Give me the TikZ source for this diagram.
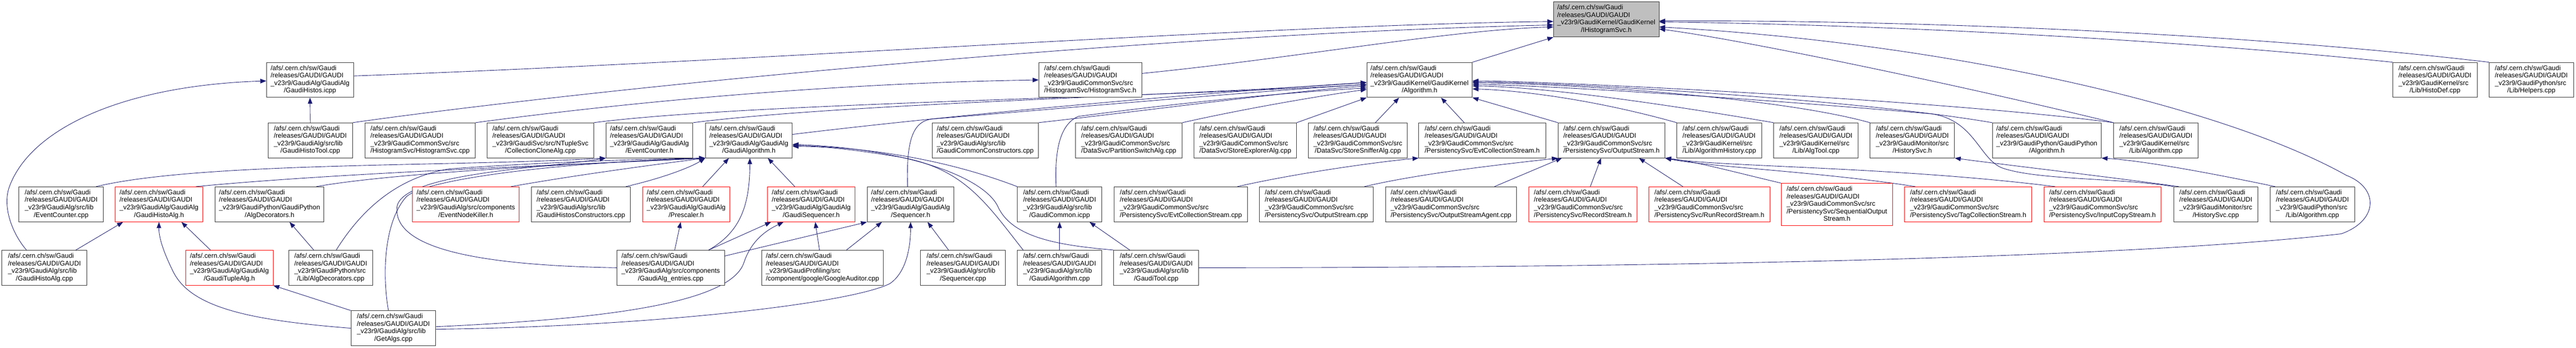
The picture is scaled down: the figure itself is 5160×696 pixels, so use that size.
\documentclass[tikz,border=0pt]{standalone}
\usepackage{fontspec}
\newfontfamily\gfont{Liberation Sans}
\usetikzlibrary{arrows.meta}
\definecolor{mblue}{HTML}{191970}
\definecolor{rootgrey}{HTML}{BFBFBF}
\newcommand\flbl[2]{\begin{tabular}{@{}l@{}}/afs/.cern.ch/sw/Gaudi\\/releases/GAUDI/GAUDI\\#1\\\multicolumn{1}{@{}c@{}}{#2}\end{tabular}}
\newcommand\flblv[3]{\begin{tabular}{@{}l@{}}/afs/.cern.ch/sw/Gaudi\\/releases/GAUDI/GAUDI\\#1\\#2\\\multicolumn{1}{@{}c@{}}{#3}\end{tabular}}
\pgfdeclarelayer{background}
\pgfsetlayers{background,main}
\begin{document}
\begin{tikzpicture}[x=1pt,y=1pt,
  nb/.style={draw=black!80, line width=1pt, fill=white, minimum height=70pt, inner sep=0pt, font={\gfont\fontsize{13.33}{15}\selectfont}},
  nr/.style={nb, draw=red},
  edg/.style={draw=mblue, line width=0.9pt, -{Triangle[length=12pt,width=9pt]}}]
\useasboundingbox (0,0) rectangle (5160,696);
% row 0
\node[nb,fill=rootgrey,minimum width=211pt] (R) at (3217.5,657) {\flbl{\_v23r9/GaudiKernel/GaudiKernel}{/IHistogramSvc.h}};
% row 1
\node[nb,minimum width=174pt] (GHicpp) at (621,536) {\flbl{\_v23r9/GaudiAlg/GaudiAlg}{/GaudiHistos.icpp}};
\node[nb,minimum width=206pt] (HSvcH) at (2184,536) {\flbl{\_v23r9/GaudiCommonSvc/src}{/HistogramSvc/HistogramSvc.h}};
\node[nb,minimum width=211pt] (AlgH) at (2843.5,536) {\flbl{\_v23r9/GaudiKernel/GaudiKernel}{/Algorithm.h}};
\node[nb,minimum width=169pt] (HDef) at (4877.5,536) {\flbl{\_v23r9/GaudiKernel/src}{/Lib/HistoDef.cpp}};
\node[nb,minimum width=169pt] (Help) at (5070.5,536) {\flbl{\_v23r9/GaudiPython/src}{/Lib/Helpers.cpp}};
% row 2
\node[nb,minimum width=169pt] (GHTool) at (621.5,415) {\flbl{\_v23r9/GaudiAlg/src/lib}{/GaudiHistoTool.cpp}};
\node[nb,minimum width=221pt] (HSvcCpp) at (841.5,415) {\flbl{\_v23r9/GaudiCommonSvc/src}{/HistogramSvc/HistogramSvc.cpp}};
\node[nb,minimum width=213pt] (CCA) at (1082.5,415) {\flbl{\_v23r9/GaudiSvc/src/NTupleSvc}{/CollectionCloneAlg.cpp}};
\node[nb,minimum width=174pt] (ECh) at (1301,415) {\flbl{\_v23r9/GaudiAlg/GaudiAlg}{/EventCounter.h}};
\node[nb,minimum width=174pt] (GAh) at (1500,415) {\flbl{\_v23r9/GaudiAlg/GaudiAlg}{/GaudiAlgorithm.h}};
\node[nb,minimum width=213pt] (GCC) at (1973.5,415) {\flbl{\_v23r9/GaudiAlg/src/lib}{/GaudiCommonConstructors.cpp}};
\node[nb,minimum width=214pt] (PSA) at (2261,415) {\flbl{\_v23r9/GaudiCommonSvc/src}{/DataSvc/PartitionSwitchAlg.cpp}};
\node[nb,minimum width=205pt] (SEA) at (2494.5,415) {\flbl{\_v23r9/GaudiCommonSvc/src}{/DataSvc/StoreExplorerAlg.cpp}};
\node[nb,minimum width=198pt] (SSA) at (2720,415) {\flbl{\_v23r9/GaudiCommonSvc/src}{/DataSvc/StoreSnifferAlg.cpp}};
\node[nb,minimum width=254pt] (ECSh) at (2969,415) {\flbl{\_v23r9/GaudiCommonSvc/src}{/PersistencySvc/EvtCollectionStream.h}};
\node[nb,minimum width=214pt] (OSh) at (3228,415) {\flbl{\_v23r9/GaudiCommonSvc/src}{/PersistencySvc/OutputStream.h}};
\node[nb,minimum width=170pt] (AHist) at (3444,415) {\flbl{\_v23r9/GaudiKernel/src}{/Lib/AlgorithmHistory.cpp}};
\node[nb,minimum width=169pt] (ATool) at (3637.5,415) {\flbl{\_v23r9/GaudiKernel/src}{/Lib/AlgTool.cpp}};
\node[nb,minimum width=169pt] (HSh) at (3830.5,415) {\flbl{\_v23r9/GaudiMonitor/src}{/HistorySvc.h}};
\node[nb,minimum width=218pt] (GPAh) at (4100,415) {\flbl{\_v23r9/GaudiPython/GaudiPython}{/Algorithm.h}};
\node[nb,minimum width=169pt] (KAcpp) at (4318.5,415) {\flbl{\_v23r9/GaudiKernel/src}{/Lib/Algorithm.cpp}};
% row 3
\node[nb,minimum width=169pt] (ECcpp) at (122.5,287) {\flbl{\_v23r9/GaudiAlg/src/lib}{/EventCounter.cpp}};
\node[nr,minimum width=175pt] (GHAh) at (318.5,287) {\flbl{\_v23r9/GaudiAlg/GaudiAlg}{/GaudiHistoAlg.h}};
\node[nb,minimum width=218pt] (ADh) at (540,287) {\flbl{\_v23r9/GaudiPython/GaudiPython}{/AlgDecorators.h}};
\node[nr,minimum width=214pt] (ENK) at (933,287) {\flbl{\_v23r9/GaudiAlg/src/components}{/EventNodeKiller.h}};
\node[nb,minimum width=199pt] (GHC) at (1163.5,287) {\flbl{\_v23r9/GaudiAlg/src/lib}{/GaudiHistosConstructors.cpp}};
\node[nr,minimum width=175pt] (Presc) at (1374.5,287) {\flbl{\_v23r9/GaudiAlg/GaudiAlg}{/Prescaler.h}};
\node[nr,minimum width=176pt] (GSeqh) at (1625,287) {\flbl{\_v23r9/GaudiAlg/GaudiAlg}{/GaudiSequencer.h}};
\node[nb,minimum width=174pt] (Seqh) at (1824,287) {\flbl{\_v23r9/GaudiAlg/GaudiAlg}{/Sequencer.h}};
\node[nb,minimum width=169pt] (GCicpp) at (2122.5,287) {\flbl{\_v23r9/GaudiAlg/src/lib}{/GaudiCommon.icpp}};
\node[nb,minimum width=267pt] (ECScpp) at (2365.5,287) {\flbl{\_v23r9/GaudiCommonSvc/src}{/PersistencySvc/EvtCollectionStream.cpp}};
\node[nb,minimum width=228pt] (OScpp) at (2637,287) {\flbl{\_v23r9/GaudiCommonSvc/src}{/PersistencySvc/OutputStream.cpp}};
\node[nb,minimum width=263pt] (OSAcpp) at (2906.5,287) {\flbl{\_v23r9/GaudiCommonSvc/src}{/PersistencySvc/OutputStreamAgent.cpp}};
\node[nr,minimum width=217pt] (RSh) at (3170.5,287) {\flbl{\_v23r9/GaudiCommonSvc/src}{/PersistencySvc/RecordStream.h}};
\node[nr,minimum width=242pt] (RRSh) at (3424,287) {\flbl{\_v23r9/GaudiCommonSvc/src}{/PersistencySvc/RunRecordStream.h}};
\node[nr,minimum width=223pt,minimum height=85pt] (SOSh) at (3679.5,286.5) {\flblv{\_v23r9/GaudiCommonSvc/src}{/PersistencySvc/SequentialOutput}{Stream.h}};
\node[nr,minimum width=255pt] (TCSh) at (3942.5,287) {\flbl{\_v23r9/GaudiCommonSvc/src}{/PersistencySvc/TagCollectionStream.h}};
\node[nr,minimum width=235pt] (ICSh) at (4211.5,287) {\flbl{\_v23r9/GaudiCommonSvc/src}{/PersistencySvc/InputCopyStream.h}};
\node[nb,minimum width=169pt] (HScpp) at (4438.5,287) {\flbl{\_v23r9/GaudiMonitor/src}{/HistorySvc.cpp}};
\node[nb,minimum width=170pt] (GPAcpp) at (4632,287) {\flbl{\_v23r9/GaudiPython/src}{/Lib/Algorithm.cpp}};
% row 4
\node[nb,minimum width=170pt] (GHAcpp) at (89,160) {\flbl{\_v23r9/GaudiAlg/src/lib}{/GaudiHistoAlg.cpp}};
\node[nr,minimum width=175pt] (GTAh) at (459.5,160) {\flbl{\_v23r9/GaudiAlg/GaudiAlg}{/GaudiTupleAlg.h}};
\node[nb,minimum width=169pt] (ADcpp) at (662.5,160) {\flbl{\_v23r9/GaudiPython/src}{/Lib/AlgDecorators.cpp}};
\node[nb,minimum width=215pt] (GAent) at (1343.5,160) {\flbl{\_v23r9/GaudiAlg/src/components}{/GaudiAlg\_entries.cpp}};
\node[nb,minimum width=243pt] (GAud) at (1647.5,160) {\flbl{\_v23r9/GaudiProfiling/src}{/component/google/GoogleAuditor.cpp}};
\node[nb,minimum width=170pt] (Seqcpp) at (1929,160) {\flbl{\_v23r9/GaudiAlg/src/lib}{/Sequencer.cpp}};
\node[nb,minimum width=169pt] (GAcpp) at (2122.5,160) {\flbl{\_v23r9/GaudiAlg/src/lib}{/GaudiAlgorithm.cpp}};
\node[nb,minimum width=170pt] (GTcpp) at (2316,160) {\flbl{\_v23r9/GaudiAlg/src/lib}{/GaudiTool.cpp}};
% row 5
\node[nb,minimum width=170pt] (GetAlgs) at (788,39) {\flbl{\_v23r9/GaudiAlg/src/lib}{/GetAlgs.cpp}};

\begin{pgfonlayer}{background}
% into IHistogramSvc.h
\draw[edg] ([yshift=8pt]GHicpp.east) .. controls (1500,572) and (2500,645) .. ([yshift=-4pt]R.west);
\draw[edg] (GHTool.north east) .. controls (1200,520) and (2300,628) .. ([yshift=-11pt]R.west);
\draw[edg] ([yshift=13pt]HSvcH.east) .. controls (2600,580) and (2900,636) .. ([yshift=-15pt]R.west);
\draw[edg] (AlgH.north east) -- (R.south west);
\draw[edg] (HDef.north west) .. controls (4300,622) and (3700,648) .. ([yshift=-5pt]R.east);
\draw[edg] (Help.north west) .. controls (4400,640) and (3700,656) .. ([yshift=-3pt]R.east);
\draw[edg] (GTcpp.east) .. controls (3300,160) and (4250,178) .. (4690,228) .. controls (4765,255) and (4765,320) .. (4700,345) .. controls (4450,485) and (3900,610) .. ([yshift=-15pt]R.east);
\draw[edg] (KAcpp.north west) .. controls (3950,520) and (3500,615) .. ([yshift=-19pt]R.east);
% into GaudiHistos.icpp
\draw[edg] (GHTool.north) -- (GHicpp.south);
\draw[edg] ([xshift=-36pt]GHAcpp.north) .. controls (25,228) and (5,280) .. (18,320) .. controls (60,440) and (250,525) .. ([yshift=-2pt]GHicpp.west);
% into HistogramSvc.h
\draw[edg] (HSvcCpp.north east) .. controls (1300,497) and (1700,530) .. (HSvcH.west);
% into Algorithm.h
\draw[edg] (CCA.north east) .. controls (1500,490) and (2300,500) .. ([yshift=-9pt]AlgH.west);
\draw[edg] (ECh.north east) .. controls (1700,490) and (2400,505) .. ([yshift=-5pt]AlgH.west);
\draw[edg] ([yshift=12pt]GAh.east) .. controls (1900,465) and (2400,510) .. ([yshift=-5pt]AlgH.west);
\draw[edg] (GCC.north east) .. controls (2300,475) and (2600,515) .. ([yshift=-12pt]AlgH.west);
\draw[edg] (PSA.north east) .. controls (2500,480) and (2650,505) .. ([yshift=-19pt]AlgH.west);
\draw[edg] (SEA.north east) -- (AlgH.south west);
\draw[edg] ([xshift=35pt]SSA.north) -- ([xshift=-41pt]AlgH.south);
\draw[edg] ([xshift=-36pt]ECSh.north) -- ([xshift=43pt]AlgH.south);
\draw[edg] ([xshift=-6pt]Seqh.north) .. controls (1815,420) and (1830,455) .. (1870,458) .. controls (2200,485) and (2500,512) .. ([yshift=-9pt]AlgH.west);
\draw[edg] ([xshift=-7pt]GCicpp.north) .. controls (2112,400) and (2125,448) .. (2160,463) .. controls (2400,495) and (2600,512) .. ([yshift=-16pt]AlgH.west);
\draw[edg] (OSh.north west) -- (AlgH.south east);
\draw[edg] (AHist.north west) .. controls (3200,495) and (3050,515) .. ([yshift=-18pt]AlgH.east);
\draw[edg] (ATool.north west) .. controls (3350,485) and (3100,522) .. ([yshift=-12pt]AlgH.east);
\draw[edg] (HSh.north west) .. controls (3550,505) and (3100,530) .. ([yshift=-6pt]AlgH.east);
\draw[edg] (GPAh.north west) .. controls (3700,500) and (3100,532) .. ([yshift=-4pt]AlgH.east);
\draw[edg] (KAcpp.north west) .. controls (3900,495) and (3100,534) .. ([yshift=-2pt]AlgH.east);
\draw[edg] (HScpp.north west) .. controls (4250,340) and (4080,335) .. (4010,360) .. controls (3965,378) and (3955,455) .. (3870,468) .. controls (3500,500) and (3100,525) .. ([yshift=-9pt]AlgH.east);
% into EventCounter.h
\draw[edg] ([xshift=70pt]ECcpp.north) .. controls (400,372) and (900,362) .. (ECh.south west);
\draw[edg] (GAent.west) .. controls (950,165) and (790,200) .. (795,280) .. controls (800,350) and (1100,360) .. (ECh.south west);
% into GaudiAlgorithm.h
\draw[edg] ([xshift=-14pt]GHAh.north east) .. controls (700,352) and (1200,368) .. (GAh.south west);
\draw[edg] ([xshift=-16pt]ADh.north east) .. controls (800,352) and (1200,370) .. (GAh.south west);
\draw[edg] ([xshift=-17pt]ENK.north east) .. controls (1150,345) and (1300,365) .. (GAh.south west);
\draw[edg] ([xshift=-10pt]GHC.north east) .. controls (1330,340) and (1385,362) .. (GAh.south west);
\draw[edg] ([xshift=33pt]Presc.north) -- ([xshift=-40pt]GAh.south);
\draw[edg] ([xshift=76pt]GAent.north) .. controls (1480,230) and (1502,280) .. ([xshift=2pt]GAh.south);
\draw[edg] ([xshift=-33pt]GSeqh.north) -- ([xshift=38pt]GAh.south);
\draw[edg] ([xshift=-10pt]GetAlgs.north) .. controls (765,150) and (770,250) .. (812,300) .. controls (840,335) and (1100,370) .. (GAh.south west);
\draw[edg] ([xshift=11pt]ADcpp.north) .. controls (720,270) and (790,340) .. (900,358) .. controls (1100,372) and (1300,378) .. (GAh.south west);
\draw[edg] (GCicpp.north west) .. controls (1900,375) and (1750,400) .. ([yshift=-10pt]GAh.east);
\draw[edg] ([xshift=12pt]GAcpp.north west) .. controls (1975,290) and (1930,360) .. (1800,382) .. controls (1700,398) and (1650,403) .. ([yshift=-12pt]GAh.east);
\draw[edg] (GTcpp.north west) .. controls (2120,205) and (2030,220) .. (2000,280) .. controls (1975,340) and (1820,398) .. ([yshift=-8pt]GAh.east);
% into GaudiHistoAlg.h, GaudiTupleAlg.h, AlgDecorators.h
\draw[edg] ([xshift=63pt]GHAcpp.north) -- ([xshift=-72pt]GHAh.south);
\draw[edg] ([xshift=-38pt]GTAh.north) -- ([xshift=45pt]GHAh.south);
\draw[edg] (GetAlgs.west) .. controls (500,55) and (385,80) .. (348,150) .. controls (328,190) and (318,220) .. (GHAh.south);
\draw[edg] (GetAlgs.north west) -- (GTAh.south east);
\draw[edg] ([xshift=-34pt]ADcpp.north) -- ([xshift=40pt]ADh.south);
% into Prescaler.h, GaudiSequencer.h, Sequencer.h
\draw[edg] ([xshift=8pt]GAent.north) -- ([xshift=-11pt]Presc.south);
\draw[edg] ([xshift=76pt]GAent.north) -- ([xshift=8pt]GSeqh.south west);
\draw[edg] ([yshift=3pt]GetAlgs.east) .. controls (1150,55) and (1460,80) .. (1490,170) .. controls (1505,215) and (1535,235) .. ([xshift=33pt]GSeqh.south west);
\draw[edg] ([xshift=-6pt]GAud.north) -- ([xshift=8pt]GSeqh.south);
\draw[edg] ([yshift=-12pt]GAent.north east) -- (Seqh.south west);
\draw[edg] ([xshift=-74pt]GAud.north east) -- ([xshift=30pt]Seqh.south west);
\draw[edg] ([yshift=-2pt]GetAlgs.east) .. controls (1300,42) and (1700,88) .. (1782,128) .. controls (1815,150) and (1824,200) .. (Seqh.south);
\draw[edg] ([xshift=-29pt]Seqcpp.north) -- ([xshift=34pt]Seqh.south);
% into GaudiCommon.icpp
\draw[edg] (GAcpp.north) -- (GCicpp.south);
\draw[edg] ([xshift=-53pt]GTcpp.north) -- ([xshift=60pt]GCicpp.south);
% persistency
\draw[edg] ([xshift=-21pt]ECScpp.north east) .. controls (2600,350) and (2760,372) .. (ECSh.south west);
\draw[edg] ([xshift=96pt]OScpp.north) .. controls (2850,350) and (3020,368) .. (OSh.south west);
\draw[edg] ([xshift=-45pt]OSAcpp.north east) -- ([xshift=8pt]OSh.south west);
\draw[edg] ([xshift=15pt]RSh.north) -- ([xshift=-21pt]OSh.south);
\draw[edg] ([xshift=-53pt]RRSh.north) -- ([xshift=55pt]OSh.south);
\draw[edg] (SOSh.north west) .. controls (3480,350) and (3400,372) .. (OSh.south east);
\draw[edg] ([xshift=22pt]TCSh.north west) .. controls (3650,352) and (3420,362) .. (OSh.south east);
\draw[edg] ([xshift=23pt]ICSh.north west) .. controls (3800,362) and (3450,362) .. (OSh.south east);
% history / python
\draw[edg] ([xshift=11pt]HScpp.north west) .. controls (4200,345) and (4000,368) .. (HSh.south east);
\draw[edg] ([xshift=11pt]GPAcpp.north west) .. controls (4450,345) and (4300,374) .. (GPAh.south east);
\end{pgfonlayer}
\end{tikzpicture}
\end{document}
